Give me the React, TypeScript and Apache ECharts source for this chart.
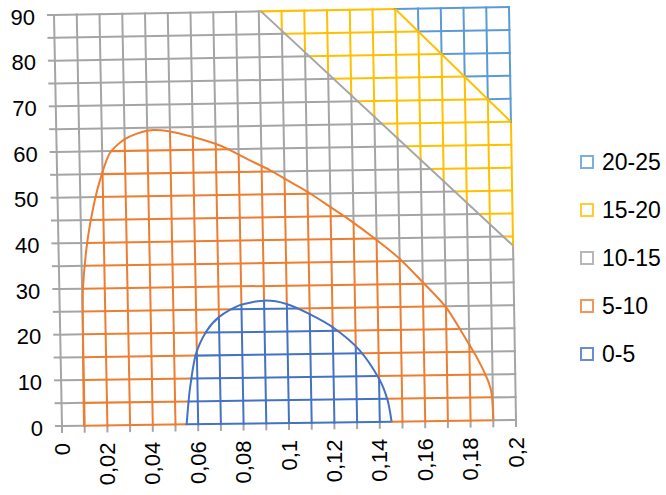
import React, { useEffect, useRef } from "react";
import * as echarts from "echarts";

// grid (wireframe) positions
const xGrid = [0, 0.01, 0.02, 0.03, 0.04, 0.05, 0.06, 0.07, 0.08, 0.09, 0.1, 0.11, 0.12, 0.13, 0.14, 0.15, 0.16, 0.17, 0.18, 0.19, 0.2];
const yGrid = [0, 5, 10, 15, 20, 25, 30, 35, 40, 45, 50, 55, 60, 65, 70, 75, 80, 85, 90];
// tick labels
const xLabels = [0, 0.02, 0.04, 0.06, 0.08, 0.1, 0.12, 0.14, 0.16, 0.18, 0.2];
const yLabels = [0, 10, 20, 30, 40, 50, 60, 70, 80, 90];
// bands
const bandNames = ["0-5", "5-10", "10-15", "15-20", "20-25"];
const bandColors = ["#4472C4", "#ED7D31", "#A5A5A5", "#FFC000", "#5B9BD5"];

// contour lines: [x, y]
const contour5 = [
  [0.0549, 0], [0.0566, 7.6], [0.0595, 15.2], [0.0644, 20.3], [0.0704, 23.5], [0.0793, 25.9],
  [0.0903, 26.8], [0.0998, 26.0], [0.11, 23.7], [0.1208, 20.5], [0.1316, 15.7], [0.14, 9.4],
  [0.1436, 4.7], [0.1452, 0],
];
const contour10 = [
  [0.0097, 0], [0.0098, 10], [0.01, 20], [0.0104, 30], [0.0128, 40.5], [0.0164, 49.4],
  [0.0196, 54.9], [0.0234, 59.6], [0.0301, 62.6], [0.0404, 64.4], [0.05, 64.1], [0.0602, 62.8],
  [0.0689, 61.4], [0.0747, 60.2], [0.0849, 57.5], [0.0936, 55.3], [0.1023, 52.7], [0.111, 50.1],
  [0.1197, 47.1], [0.1284, 44.1], [0.1392, 40.0], [0.15, 35.5], [0.16, 30.3], [0.17, 24.8],
  [0.179, 17.4], [0.184, 13.0], [0.188, 8.6], [0.1895, 5.7], [0.19, 0],
];
const contour15 = [[0.091, 90], [0.2, 38]];
const contour20 = [[0.15, 90], [0.2, 65]];

const FONT = "'Liberation Sans', Arial, sans-serif";

function inPoly(x: number, y: number, poly: number[][]) {
  let inside = false;
  for (let i = 0, j = poly.length - 1; i < poly.length; j = i++) {
    const xi = poly[i][0], yi = poly[i][1], xj = poly[j][0], yj = poly[j][1];
    if ((yi > y) !== (yj > y) && x < ((xj - xi) * (y - yi)) / (yj - yi) + xi) inside = !inside;
  }
  return inside;
}

export default function App() {
  const ref = useRef<HTMLDivElement>(null);
  useEffect(() => {
    if (!ref.current) return;
    const chart = echarts.init(ref.current, null, { renderer: "svg" });
    const xMax = xGrid[xGrid.length - 1];
    const yMax = yGrid[yGrid.length - 1];

    const closeBottom = (c: number[][]) => [[c[0][0], -1], ...c, [c[c.length - 1][0], -1]];
    const closeTopRight = (c: number[][]) => [
      ...c,
      [xMax + 0.05, c[c.length - 1][1]],
      [xMax + 0.05, yMax + 10],
      [c[0][0], yMax + 10],
    ];
    const poly5 = closeBottom(contour5);
    const poly10 = closeBottom(contour10);
    const poly15 = closeTopRight(contour15);
    const poly20 = closeTopRight(contour20);
    const band = (x: number, y: number) =>
      inPoly(x, y, poly5) ? 0 : inPoly(x, y, poly10) ? 1 : inPoly(x, y, poly20) ? 4 : inPoly(x, y, poly15) ? 3 : 2;

    // perspective corner shifts (px): bl, br, tl, tr
    const shift = { bl: [4, 3], br: [4, -3], tl: [-4, 4], tr: [-3, -4] };

    const renderItem = (params: any, api: any) => {
      const P = (x: number, y: number) => {
        const c = api.coord([x, y]);
        const u = x / xMax, v = y / yMax;
        const w = [(1 - u) * (1 - v), u * (1 - v), (1 - u) * v, u * v];
        const dx = w[0] * shift.bl[0] + w[1] * shift.br[0] + w[2] * shift.tl[0] + w[3] * shift.tr[0];
        const dy = w[0] * shift.bl[1] + w[1] * shift.br[1] + w[2] * shift.tl[1] + w[3] * shift.tr[1];
        return [c[0] + dx, c[1] + dy];
      };
      const children: any[] = [];
      const seg = (a: number[], b: number[], color: string, cap = "square") => {
        children.push({
          type: "line",
          shape: { x1: a[0], y1: a[1], x2: b[0], y2: b[1] },
          style: { stroke: color, lineWidth: 2, lineCap: cap },
        });
      };
      const gridLine = (x0: number, y0: number, x1: number, y1: number) => {
        const at = (t: number) => [x0 + (x1 - x0) * t, y0 + (y1 - y0) * t];
        const bAt = (t: number) => { const p = at(t); return band(p[0], p[1]); };
        const N = 200;
        let start = 0;
        let cur = bAt(0);
        let prevT = 0;
        for (let k = 1; k <= N; k++) {
          const t = k / N;
          const b = bAt(t);
          if (b !== cur) {
            let lo = prevT, hi = t;
            for (let it = 0; it < 12; it++) {
              const m = (lo + hi) / 2;
              if (bAt(m) === cur) lo = m; else hi = m;
            }
            const tt = (lo + hi) / 2;
            const a = at(start), e = at(tt);
            seg(P(a[0], a[1]), P(e[0], e[1]), bandColors[cur]);
            start = tt;
            cur = b;
          }
          prevT = t;
        }
        const a = at(start), e = at(1);
        seg(P(a[0], a[1]), P(e[0], e[1]), bandColors[cur]);
      };
      // ticks
      yGrid.forEach((y) => {
        const p = P(0, y);
        seg([p[0] - 7, p[1]], p, bandColors[2], "butt");
      });
      xGrid.forEach((x) => {
        const p = P(x, 0);
        seg(p, [p[0], p[1] + 7], bandColors[2], "butt");
      });
      yGrid.forEach((y) => gridLine(0, y, xMax, y));
      xGrid.forEach((x) => gridLine(x, 0, x, yMax));
      // contour boundaries, drawn in the lower band's colour
      const contourLine = (c: number[][], color: string, smooth: number) => {
        children.push({
          type: "polyline",
          shape: { points: c.map((q) => P(q[0], q[1])), smooth },
          style: { stroke: color, lineWidth: 2, fill: null },
        });
      };
      contourLine(contour10, bandColors[1], 0.25);
      contourLine(contour5, bandColors[0], 0.25);
      contourLine(contour15, bandColors[2], 0);
      contourLine(contour20, bandColors[3], 0);
      // tick labels
      yLabels.forEach((y) => {
        const p = P(0, y);
        children.push({
          type: "text",
          x: p[0] - 19,
          y: p[1] + 2,
          style: { text: String(y), align: "right", verticalAlign: "middle", fontSize: 22, fontFamily: FONT, fill: "#000" },
        });
      });
      xLabels.forEach((x) => {
        const p = P(x, 0);
        children.push({
          type: "text",
          x: p[0],
          y: p[1] + 17,
          rotation: Math.PI / 2,
          style: { text: String(x).replace(".", ","), align: "right", verticalAlign: "middle", fontSize: 22, fontFamily: FONT, fill: "#000" },
        });
      });
      return { type: "group", children };
    };

    const legendOrder = [4, 3, 2, 1, 0];
    chart.setOption({
      animation: false,
      backgroundColor: "#fff",
      grid: { left: 58, right: 154, top: 11, bottom: 72 },
      xAxis: { type: "value", min: 0, max: xMax, show: false },
      yAxis: { type: "value", min: 0, max: yMax, show: false },
      legend: {
        orient: "vertical",
        left: 580,
        top: 150,
        padding: 0,
        itemGap: 24,
        itemWidth: 12,
        itemHeight: 12,
        icon: "rect",
        textStyle: { fontSize: 23, lineHeight: 24, fontFamily: FONT, color: "#000", padding: [0, 0, 0, 4] },
        data: legendOrder.map((i) => ({
          name: bandNames[i],
          icon: "rect",
          itemStyle: { color: "#fff", borderColor: bandColors[i], borderWidth: 2 },
        })),
      },
      series: [
        {
          type: "custom",
          silent: true,
          data: [[0, 0]],
          renderItem,
          z: 2,
        },
        ...bandNames.map((n, i) => ({
          type: "scatter",
          name: n,
          data: [],
          itemStyle: { color: "#fff", borderColor: bandColors[i], borderWidth: 2 },
        })),
      ],
    });
    return () => chart.dispose();
  }, []);
  return <div ref={ref} style={{ position: "fixed", left: 0, top: 0, width: 666, height: 495 }} />;
}
